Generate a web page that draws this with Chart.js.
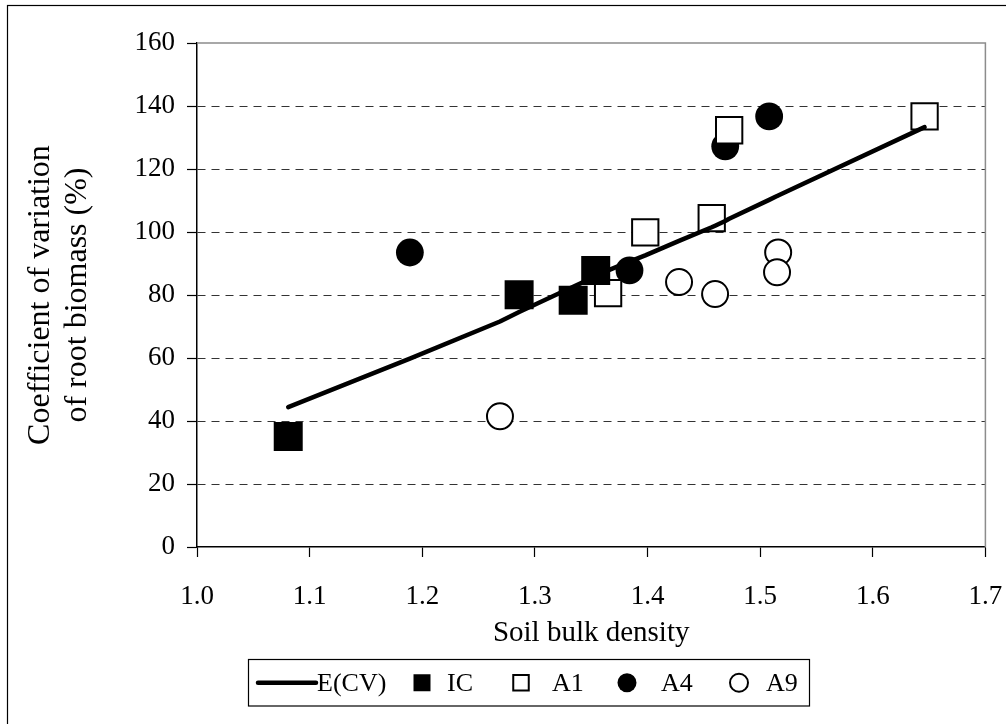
<!DOCTYPE html>
<html>
<head>
<meta charset="utf-8">
<script src="https://cdn.jsdelivr.net/npm/chart.js@4/dist/chart.umd.min.js"></script>
<style>
  html, body { margin: 0; padding: 0; background: #fff; }
  #wrap { position: relative; width: 1006px; height: 724px; }
  canvas { display: block; }
</style>
</head>
<body>
<div id="wrap"><canvas id="c" width="1006" height="724"></canvas></div>
<script>
// ---- Data ----
const seriesNames = ['E(CV)', 'IC', 'A1', 'A4', 'A9'];

const ecvX = [1.081, 1.189, 1.269, 1.286, 1.334, 1.354, 1.365, 1.384, 1.398, 1.428, 1.457, 1.460, 1.469, 1.4725, 1.508, 1.515, 1.516, 1.646];
const ecvY = [44.4, 59.8, 71.6, 74.6, 82.6, 85.9, 87.8, 90.6, 92.6, 97.2, 101.5, 102.0, 103.5, 104.2, 110.2, 111.4, 111.6, 133.3];

const icX = [1.081, 1.286, 1.334, 1.354];
const icY = [35.1, 80.1, 78.3, 87.8];

const a1X = [1.365, 1.398, 1.457, 1.4725, 1.646];
const a1Y = [80.6, 99.9, 104.4, 132.3, 136.7];

const a4X = [1.189, 1.384, 1.469, 1.508];
const a4Y = [93.5, 87.8, 127.2, 136.7];

const a9X = [1.269, 1.428, 1.460, 1.516, 1.515];
const a9Y = [41.5, 84.1, 80.3, 93.5, 87.2];

const xTicks = [1.0, 1.1, 1.2, 1.3, 1.4, 1.5, 1.6, 1.7];
const yTicks = [0, 20, 40, 60, 80, 100, 120, 140, 160];

const xTitle = 'Soil bulk density';
const yTitle = ['Coefficient of variation', 'of root biomass (%)'];

// ---- helpers ----
const pts = (xs, ys) => xs.map((x, i) => ({x: x, y: ys[i]}));
const FONT = "'Liberation Serif', 'Times New Roman', serif";

const frame = {
  id: 'frame',
  beforeDraw(chart) {
    const ctx = chart.ctx;
    ctx.save();
    ctx.fillStyle = '#fff';
    ctx.fillRect(0, 0, chart.width, chart.height);
    ctx.restore();
  },
  afterDraw(chart) {
    const ctx = chart.ctx;
    const a = chart.chartArea;
    ctx.save();
    // outer chart border (right/bottom edges fall outside the picture)
    ctx.strokeStyle = '#000';
    ctx.lineWidth = 1.2;
    ctx.strokeRect(7.5, 5.5, 1010, 730);
    // plot-area top and right border (grey)
    ctx.strokeStyle = '#8c8c8c';
    ctx.lineWidth = 1.5;
    ctx.beginPath();
    ctx.moveTo(a.left, a.top);
    ctx.lineTo(a.right, a.top);
    ctx.lineTo(a.right, a.bottom);
    ctx.stroke();
    ctx.restore();
  }
};

// custom legend box under the chart, symbols taken from dataset styles
const legendBox = {
  id: 'legendBox',
  afterDraw(chart) {
    const ctx = chart.ctx;
    const box = {x: 248.5, y: 659.5, w: 561, h: 46.5};
    const cy = box.y + box.h / 2;
    const symX = [287, 422, 521, 627, 739];
    const txtX = [317, 447, 552, 661, 766];
    ctx.save();
    ctx.strokeStyle = '#000';
    ctx.lineWidth = 1.2;
    ctx.strokeRect(box.x, box.y, box.w, box.h);
    chart.data.datasets.forEach((ds, i) => {
      const sx = symX[i];
      ctx.beginPath();
      if (i === 0) {
        ctx.strokeStyle = ds.borderColor;
        ctx.lineWidth = 4.5;
        ctx.lineCap = 'round';
        ctx.moveTo(sx - 29, cy);
        ctx.lineTo(sx + 29, cy);
        ctx.stroke();
      } else if (ds.pointStyle === 'rect') {
        const s = ds.pointBorderWidth ? 15.5 : 17;
        ctx.rect(sx - s / 2, cy - s / 2, s, s);
      } else {
        ctx.arc(sx, cy, ds.pointBorderWidth ? 9 : 9.5, 0, Math.PI * 2);
      }
      if (i > 0) {
        if (ds.pointBorderWidth) {
          ctx.fillStyle = '#fff';
          ctx.fill();
          ctx.lineWidth = 2;
          ctx.strokeStyle = '#000';
          ctx.stroke();
        } else {
          ctx.fillStyle = '#000';
          ctx.fill();
        }
      }
      ctx.fillStyle = '#000';
      ctx.font = "26px " + FONT;
      ctx.textBaseline = 'middle';
      ctx.textAlign = 'left';
      ctx.fillText(ds.label, txtX[i], cy + 1);
    });
    ctx.restore();
  }
};

const ctx = document.getElementById('c').getContext('2d');
new Chart(ctx, {
  type: 'scatter',
  data: {
    datasets: [
      {
        label: seriesNames[0],
        data: pts(ecvX, ecvY),
        showLine: true,
        borderColor: '#000',
        borderWidth: 4.5,
        borderCapStyle: 'round',
        borderJoinStyle: 'round',
        pointRadius: 0,
        tension: 0
      },
      {
        label: seriesNames[1],
        data: pts(icX, icY),
        pointStyle: 'rect',
        pointRadius: 20.5,
        pointBackgroundColor: '#000',
        pointBorderColor: '#000',
        pointBorderWidth: 0
      },
      {
        label: seriesNames[2],
        data: pts(a1X, a1Y),
        pointStyle: 'rect',
        pointRadius: 18.6,
        pointBackgroundColor: '#fff',
        pointBorderColor: '#000',
        pointBorderWidth: 2
      },
      {
        label: seriesNames[3],
        data: pts(a4X, a4Y),
        pointStyle: 'circle',
        pointRadius: 13.9,
        pointBackgroundColor: '#000',
        pointBorderColor: '#000',
        pointBorderWidth: 0
      },
      {
        label: seriesNames[4],
        data: pts(a9X, a9Y),
        pointStyle: 'circle',
        pointRadius: 13,
        pointBackgroundColor: '#fff',
        pointBorderColor: '#000',
        pointBorderWidth: 2
      }
    ]
  },
  options: {
    responsive: false,
    animation: false,
    layout: { padding: { left: 8, top: 43, right: 19, bottom: 0 } },
    plugins: {
      legend: { display: false },
      tooltip: { enabled: false },
      title: { display: false }
    },
    scales: {
      x: {
        type: 'linear',
        min: 1.0,
        max: 1.7,
        afterFit(scale) {
          scale.height = 177;
          scale.paddingLeft = 0;
          scale.paddingRight = 0;
        },
        afterBuildTicks(scale) { scale.ticks = xTicks.map(v => ({value: v})); },
        ticks: {
          color: '#000',
          font: { family: FONT, size: 27 },
          padding: 24,
          maxRotation: 0,
          callback: v => Number(v).toFixed(1)
        },
        grid: {
          drawOnChartArea: false,
          drawTicks: true,
          tickLength: 10,
          tickColor: '#000',
          tickWidth: 1.2
        },
        border: { display: true, color: '#000', width: 1.5 },
        title: {
          display: true,
          text: xTitle,
          color: '#000',
          font: { family: FONT, size: 29 },
          padding: { top: 0, bottom: 73 }
        }
      },
      y: {
        type: 'linear',
        min: 0,
        max: 160,
        afterFit(scale) {
          scale.width = 189;
          scale.paddingTop = 0;
          scale.paddingBottom = 0;
        },
        afterBuildTicks(scale) { scale.ticks = yTicks.map(v => ({value: v})); },
        ticks: {
          color: '#000',
          font: { family: FONT, size: 27 },
          padding: 12
        },
        grid: {
          drawOnChartArea: true,
          drawTicks: true,
          tickLength: 10,
          tickColor: '#000',
          tickWidth: 1.2,
          lineWidth: 1,
          borderDash: [8, 6],
          color: ctx => (ctx.tick && (ctx.tick.value === 0 || ctx.tick.value === 160)) ? 'rgba(0,0,0,0)' : '#333'
        },
        border: { display: true, color: '#000', width: 1.5, dash: [8, 6] },
        title: {
          display: true,
          text: yTitle,
          color: '#000',
          font: { family: FONT, size: 32, lineHeight: 1.15 },
          padding: { top: 14, bottom: 0 }
        }
      }
    }
  },
  plugins: [frame, legendBox]
});
</script>
</body>
</html>
